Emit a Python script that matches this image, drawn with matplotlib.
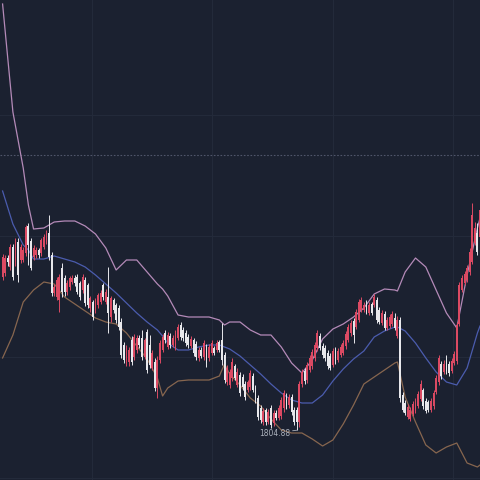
import numpy as np
from matplotlib import pyplot as plt

# candle data, one entry per bar (left to right)
opens = [1881.5, 1883.5, 1891, 1886.5, 1896.5, 1889, 1899, 1890, 1890, 1893.5, 1907, 1899.5, 1891.5, 1892.5, 1895, 1893.5, 1896.5, 1899,
         1903.5, 1892.5, 1873.5, 1871.5, 1870, 1886, 1881, 1874, 1876.5, 1879, 1881, 1881.5, 1878.5, 1875, 1880, 1877.5, 1866, 1869,
         1865, 1867.5, 1869, 1877.5, 1869, 1871.5, 1861.5, 1870, 1867.5, 1866, 1859, 1847.5, 1838.5, 1839, 1850, 1841.5, 1845, 1851,
         1851, 1841.5, 1854, 1847.5, 1836, 1839, 1826, 1840, 1845, 1853.5, 1846.5, 1852, 1847.5, 1846, 1851, 1857.5, 1855, 1853.5,
         1851.5, 1847, 1850, 1848, 1841, 1845, 1841.5, 1846.5, 1841, 1843.5, 1846, 1845, 1849, 1850, 1842.5, 1829, 1827.5, 1831,
         1837, 1827.5, 1832.5, 1831.5, 1828, 1825, 1826.5, 1832, 1826, 1821, 1816, 1809, 1815, 1809, 1816, 1808.5, 1813.5, 1811,
         1812, 1816, 1822, 1817.5, 1821.5, 1815, 1815, 1809, 1828, 1834.5, 1830, 1835, 1837, 1841, 1846, 1852, 1847, 1846, 1843.5,
         1842, 1837.5, 1845, 1840, 1842.5, 1843.5, 1847, 1850, 1853.5, 1859.5, 1856.5, 1860, 1865, 1865, 1868.5, 1863.5, 1868,
         1867.5, 1870, 1865, 1858.5, 1863, 1856, 1857, 1858, 1861, 1852, 1860, 1822.5, 1818.5, 1811.5, 1810.5, 1813, 1814.5, 1817,
         1820.5, 1825, 1819.5, 1819, 1815, 1817, 1824, 1829, 1838, 1834, 1841, 1838, 1834.5, 1838.5, 1839.5, 1858, 1875, 1878.5,
         1880, 1884, 1889, 1898.5, 1903.5, 1901.5]
closes = [1891.5, 1891, 1889, 1896.5, 1881.5, 1899, 1882.5, 1896.5, 1895, 1906.5, 1897.5, 1886, 1896, 1895, 1892.5, 1900, 1901.5, 1903.5,
          1891.5, 1873.5, 1876.5, 1880, 1881.5, 1874, 1874, 1878.5, 1881, 1881, 1878.5, 1874, 1871.5, 1881.5, 1868.5, 1867.5, 1871, 1861.5,
          1870, 1872.5, 1873.5, 1871.5, 1874, 1863.5, 1871, 1865, 1860, 1856.5, 1842.5, 1840, 1846, 1845, 1839, 1851.5, 1851, 1847.5,
          1841.5, 1850, 1835, 1837.5, 1843.5, 1826, 1840, 1848.5, 1851.5, 1850, 1852.5, 1847.5, 1851, 1853.5, 1856.5, 1851.5, 1851, 1848.5,
          1847.5, 1850.5, 1843.5, 1841.5, 1845, 1842, 1848.5, 1838.5, 1846.5, 1848.5, 1843.5, 1848.5, 1845, 1840, 1830, 1836, 1834, 1839,
          1831, 1834, 1823.5, 1826.5, 1821.5, 1829, 1833.5, 1825, 1820, 1811.5, 1810, 1814.5, 1809, 1814, 1807.5, 1813.5, 1811, 1816,
          1820, 1823.5, 1817, 1821.5, 1814, 1809, 1809, 1828, 1834, 1829.5, 1837.5, 1841, 1844, 1847.5, 1853.5, 1846, 1842.5, 1841, 1837,
          1836, 1844.5, 1839.5, 1844.5, 1846.5, 1848.5, 1853, 1856.5, 1858.5, 1852.5, 1864, 1869, 1870, 1867.5, 1864, 1867.5, 1863.5,
          1871.5, 1860, 1859, 1863.5, 1856, 1860, 1861.5, 1863, 1856, 1860, 1821, 1815, 1813.5, 1816.5, 1815, 1818, 1819.5, 1823,
          1828, 1817, 1814.5, 1815, 1819.5, 1823.5, 1831, 1841, 1832, 1838, 1834.5, 1833.5, 1839.5, 1843, 1857.5, 1877.5, 1881, 1883,
          1886, 1894, 1912.5, 1906, 1894, 1915]
highs = [1893, 1892.5, 1892.5, 1898, 1898, 1901, 1901, 1898, 1896.5, 1907.5, 1908.5, 1901, 1897.5, 1896.5, 1896, 1901, 1903, 1905,
         1912.5, 1894, 1878, 1881.5, 1883, 1888.5, 1882.5, 1880, 1882, 1882.5, 1882.5, 1883, 1879.5, 1883, 1881.5, 1878.5, 1872, 1870,
         1871, 1873.5, 1875, 1878.5, 1875.5, 1886.5, 1872, 1871, 1868.5, 1867.5, 1861, 1849, 1847.5, 1846.5, 1852, 1853, 1852.5, 1852.5,
         1855, 1851, 1855.5, 1852.5, 1845, 1841, 1842, 1850, 1853, 1855, 1854, 1853.5, 1852.5, 1855, 1858, 1859, 1856.5, 1855,
         1853, 1852, 1851, 1849.5, 1846.5, 1846.5, 1850, 1848, 1848, 1850, 1847, 1850, 1850, 1858.5, 1844, 1837.5, 1835.5, 1841,
         1838, 1836, 1834, 1833, 1829.5, 1830, 1835, 1833.5, 1827.5, 1822.5, 1817.5, 1816, 1816, 1815.5, 1817.5, 1815, 1815, 1817.5,
         1821.5, 1825, 1823.5, 1823, 1823, 1816.5, 1816.5, 1829.5, 1835.5, 1836, 1839, 1842.5, 1845.5, 1849, 1855, 1853.5, 1848.5,
         1847.5, 1845, 1843.5, 1846, 1846.5, 1846, 1848, 1850, 1854.5, 1858, 1860, 1861, 1865.5, 1870.5, 1871.5, 1869, 1870, 1869,
         1869, 1873, 1871.5, 1866.5, 1865, 1864.5, 1861.5, 1863, 1864.5, 1863.5, 1862, 1861.5, 1824, 1820, 1818, 1816.5, 1819.5,
         1821, 1824.5, 1830, 1826, 1821, 1820, 1821, 1825, 1832.5, 1842.5, 1839.5, 1840, 1842.5, 1839.5, 1841, 1844.5, 1859, 1879,
         1882.5, 1884.5, 1887.5, 1896, 1918.5, 1909, 1908.5, 1920]
lows = [1880, 1882, 1887, 1885, 1880, 1887, 1879, 1888.5, 1889, 1892, 1887.5, 1885, 1890, 1891, 1891, 1892, 1895.5, 1898,
        1890, 1872, 1872, 1870, 1864, 1871.5, 1872, 1872.5, 1875, 1878, 1877, 1873, 1870, 1873.5, 1867, 1866, 1864, 1860,
        1863.5, 1866, 1868, 1870, 1868, 1853.5, 1859, 1863.5, 1858.5, 1855, 1841, 1838.5, 1837, 1837, 1837.5, 1840, 1843.5, 1846,
        1840, 1840.5, 1833.5, 1836, 1835, 1824.5, 1821, 1838.5, 1844, 1848.5, 1845.5, 1846, 1846.5, 1845, 1850, 1850, 1849.5, 1847,
        1846, 1846, 1842, 1840, 1839.5, 1841, 1840, 1836.5, 1839.5, 1842.5, 1842.5, 1844, 1844, 1837.5, 1828.5, 1827.5, 1826, 1829.5,
        1830, 1826.5, 1822, 1825, 1820, 1824, 1825, 1824, 1818.5, 1810, 1808.5, 1807.5, 1807.5, 1808, 1806, 1807, 1810, 1810,
        1810.5, 1814, 1815.5, 1816, 1812.5, 1807.5, 1804.88, 1806.5, 1826.5, 1828, 1828.5, 1834, 1835.5, 1839.5, 1844.5, 1845, 1841,
        1839.5, 1835.5, 1835, 1836.5, 1838, 1839, 1841.5, 1842.5, 1845.5, 1849, 1852, 1848.5, 1855.5, 1859, 1864, 1864, 1863, 1862.5,
        1862.5, 1866.5, 1858.5, 1858, 1857.5, 1855, 1855, 1856, 1857, 1855, 1851, 1819, 1814, 1812.5, 1810.5, 1809.5, 1812,
        1813.5, 1816, 1819.5, 1815.5, 1813.5, 1814, 1814, 1815.5, 1823, 1827.5, 1830.5, 1833, 1833, 1832, 1833.5, 1837.5, 1838,
        1857, 1874, 1877.5, 1879, 1882.5, 1888, 1897.5, 1892.5, 1900.5]

# bollinger bands read at these bar positions
band_idx = [0, 4, 8, 10, 12, 16, 20, 24, 28, 32, 36, 40, 44, 48, 52, 56, 60, 62, 64, 68, 72, 76, 80, 84, 86, 88,
            92, 96, 100, 104, 108, 112, 116, 120, 124, 128, 132, 136, 140, 144, 148, 152, 153, 156, 160, 164, 168,
            172, 176, 180, 184, 185]
upper = [2018, 1964, 1936, 1917.5, 1905.5, 1906, 1909, 1909.5, 1909.5, 1907, 1903, 1896, 1885, 1890, 1890, 1884, 1878, 1875.5,
         1872, 1862.5, 1861.5, 1861.5, 1861.5, 1860, 1857.5, 1859, 1859, 1855, 1852.5, 1852.5, 1846.5, 1838.5, 1833.5, 1840,
         1850.5, 1855.5, 1858, 1861.5, 1866, 1873, 1875.5, 1875, 1874.5, 1884, 1891, 1886.5, 1875, 1863.5, 1856, 1882.5, 1906, 1911]
middle = [1924.5, 1908, 1897.5, 1895, 1890.5, 1890.5, 1892, 1890.5, 1889, 1886.5, 1882.5, 1878, 1873.5, 1868.5, 1863.5, 1859,
          1855, 1852, 1848.5, 1845, 1845, 1846.5, 1847.5, 1847.5, 1846.5, 1845.5, 1842, 1837.5, 1833, 1828, 1823.5, 1820,
          1818.5, 1818.5, 1822.5, 1829.5, 1835.5, 1840.5, 1844.5, 1851.5, 1854.5, 1856.5, 1856.5, 1854.5, 1848.5, 1841, 1834,
          1829, 1827.5, 1836, 1853.5, 1857]
lower = [1841, 1852.5, 1869, 1872, 1875, 1879, 1878, 1871.5, 1868, 1864.5, 1861, 1859, 1858, 1853.5, 1847, 1840.5, 1831, 1822,
         1826, 1829.5, 1830, 1830, 1830, 1832, 1838, 1833, 1827.5, 1821, 1817, 1810.5, 1805, 1803.5, 1803.5, 1800.5, 1797, 1800,
         1808, 1817.5, 1828, 1831.5, 1835, 1838.5, 1839, 1821.5, 1809, 1797.5, 1793.5, 1796.5, 1798.5, 1788.5, 1786.5, 1787.5]

low_label = "1804.88"

bg = "#1b2130"
up_col = "#dc4a63"
down_col = "#e8e8ec"

opens = np.array(opens)
closes = np.array(closes)
highs = np.array(highs)
lows = np.array(lows)
x = np.arange(len(opens))

fig = plt.figure(figsize=(4.8, 4.8), dpi=100)
fig.patch.set_facecolor(bg)
ax = fig.add_axes([0, 0, 1, 1])
ax.set_facecolor(bg)

# grid
for gx in [34.7, 81.2, 128.1, 174.6]:
    ax.axvline(gx, color="#232a3a", lw=0.8, zorder=0)
for gy in [1962.5, 1902, 1841.5, 1781]:
    ax.axhline(gy, color="#232a3a", lw=0.8, zorder=0)
ax.axhline(1942.5, color="#50566a", lw=0.8, ls=(0, (1.5, 1.5)), zorder=0)

# bands
ax.plot(band_idx, upper, color="#b48ab8", lw=0.9, zorder=1)
ax.plot(band_idx, middle, color="#4b5cae", lw=0.9, zorder=1)
ax.plot(band_idx, lower, color="#87664f", lw=0.9, zorder=1)

# candles
up = closes >= opens
colors = np.where(up, up_col, down_col)
ax.vlines(x, lows, highs, colors=colors, lw=0.7, zorder=2)
body_lo = np.minimum(opens, closes)
body_h = np.maximum(np.abs(closes - opens), 0.6)
ax.bar(x, body_h, bottom=body_lo, width=0.72, color=colors, lw=0, zorder=3)

low_i = int(np.argmin(lows))
ax.annotate(low_label, xy=(low_i, lows[low_i]), xytext=(-5, -2), textcoords="offset points",
            ha="right", va="center", fontsize=5.5, color="#aab0bb",
            arrowprops=dict(arrowstyle="-", color="#aab0bb", lw=0.6, shrinkA=0, shrinkB=0))

ax.set_xlim(-1, len(opens) - 1)
ax.set_ylim(1780, 2020)
ax.axis("off")

plt.savefig("out.png", dpi=100, facecolor=bg)
